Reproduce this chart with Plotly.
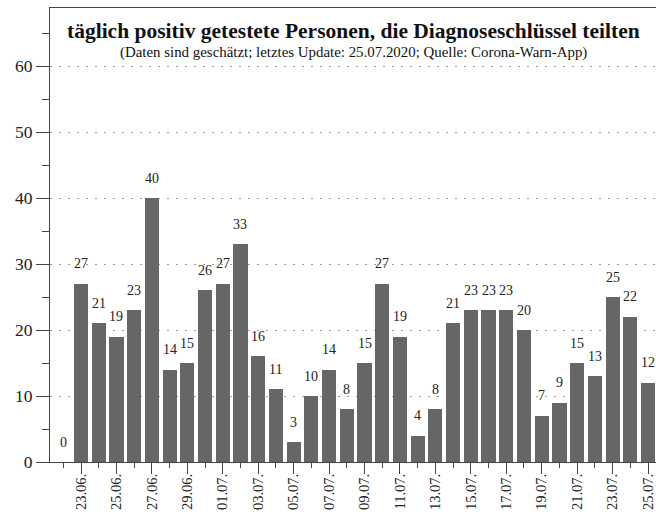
import plotly.graph_objects as go
import pandas as pd

dates = pd.date_range("2020-06-22", "2020-07-25", freq="D")
values = [0, 27, 21, 19, 23, 40, 14, 15, 26, 27, 33, 16, 11, 3, 10, 14, 8,
          15, 27, 19, 4, 8, 21, 23, 23, 23, 20, 7, 9, 15, 13, 25, 22, 12]
title = "täglich positiv getestete Personen, die Diagnoseschlüssel teilten"
subtitle = "(Daten sind geschätzt; letztes Update: 25.07.2020; Quelle: Corona-Warn-App)"

FONT = "Liberation Serif, Times New Roman, serif"
BAR = "#666666"
DAY = 86400000

fig = go.Figure()
fig.add_trace(go.Bar(x=dates, y=values, marker_color=BAR, marker_line_width=0,
                     width=0.8 * DAY, hoverinfo="x+y"))

annotations = []
for d, v in zip(dates, values):
    annotations.append(dict(x=d, y=v, xref="x", yref="y", text=str(v),
                            showarrow=False, yshift=20, yanchor="middle",
                            font=dict(family=FONT, size=14, color="#222")))
annotations.append(dict(x=0.5, y=1, xref="paper", yref="paper", text="<b>" + title + "</b>",
                        showarrow=False, yshift=-23, yanchor="middle",
                        font=dict(family=FONT, size=21.5, color="#111")))
annotations.append(dict(x=0.5, y=1, xref="paper", yref="paper", text=subtitle,
                        showarrow=False, yshift=-44, yanchor="middle",
                        font=dict(family=FONT, size=14.9, color="#111")))

x0 = pd.Timestamp("2020-06-22") - pd.Timedelta(hours=0.75 * 24)
x1 = pd.Timestamp("2020-07-25") + pd.Timedelta(hours=0.45 * 24)

fig.update_layout(
    width=656, height=528,
    margin=dict(l=50, r=0, t=8, b=66, pad=0),
    paper_bgcolor="white", plot_bgcolor="white",
    showlegend=False, bargap=0,
    font=dict(family=FONT, color="#222"),
    annotations=annotations,
    xaxis=dict(type="date", range=[x0, x1],
               tick0="2020-06-23", dtick=2 * DAY, tickformat="%d.%m.",
               tickangle=-90, ticks="outside", ticklen=11, tickcolor="#444",
               ticklabelstandoff=-6,
               tickfont=dict(family=FONT, size=14.5, color="#222"),
               showline=True, linecolor="#444", linewidth=1, mirror=True,
               showgrid=False, zeroline=False, automargin=False,
               minor=dict(dtick=DAY, tick0="2020-06-22", ticks="outside",
                          ticklen=5, tickcolor="#444", showgrid=False)),
    yaxis=dict(range=[0, 68.8], tickvals=[0, 10, 20, 30, 40, 50, 60],
               ticks="outside", ticklen=13, tickcolor="#444",
               tickfont=dict(family=FONT, size=17.5, color="#222"),
               showline=True, linecolor="#444", linewidth=1,
               showgrid=True, gridcolor="#999999", griddash="2px,7px", gridwidth=1,
               zeroline=False, automargin=False,
               minor=dict(dtick=5, tick0=0, ticks="outside", ticklen=7,
                          tickcolor="#444", showgrid=False)),
)

fig.write_html("out.html", config={"displayModeBar": False},
               post_script="document.body.style.margin='0';document.body.style.overflow='hidden';")
